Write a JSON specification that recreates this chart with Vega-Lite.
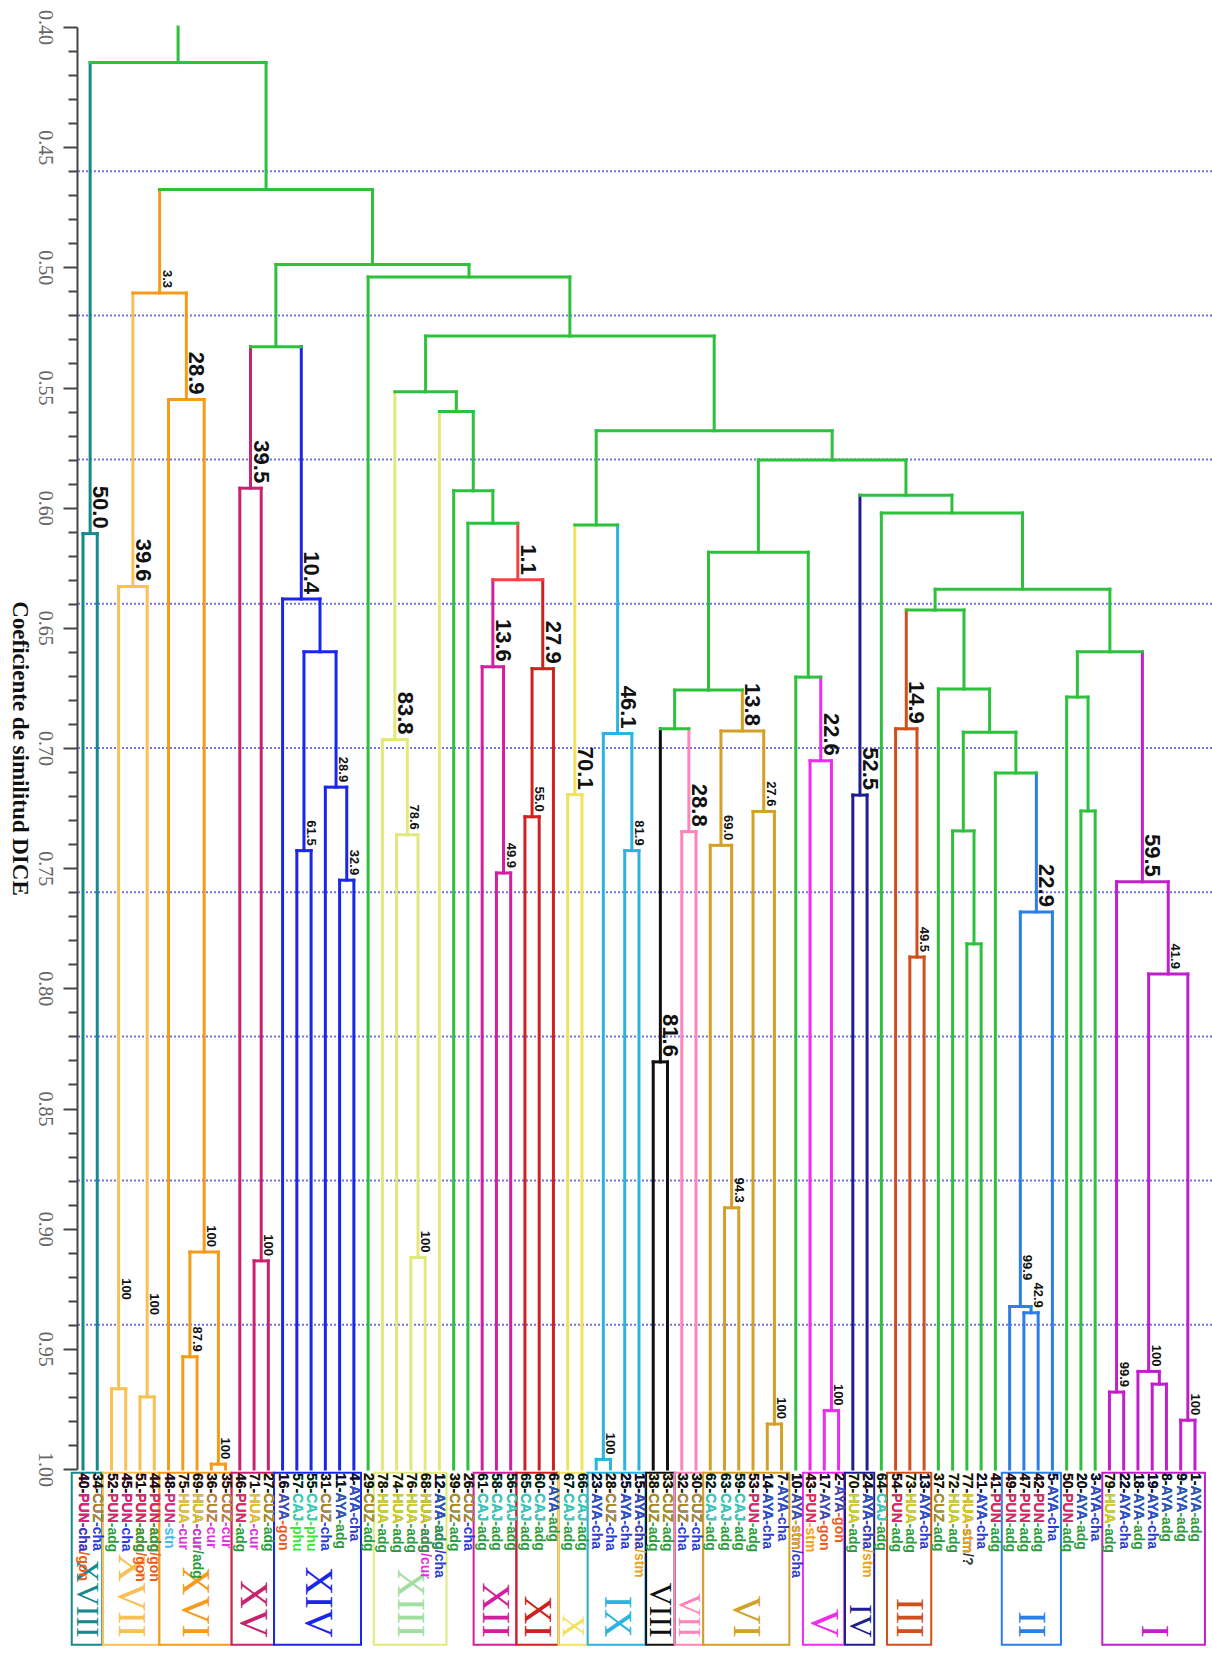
{
"$schema": "https://vega.github.io/schema/vega-lite/v6.json",
"width": 1135, "height": 1442,
"autosize": {"type": "none"},
"padding": {"left": 77, "top": 27, "right": 0, "bottom": 188},
"background": "white",
"config": {"view": {"stroke": null}},
"resolve": {"axis": {"y": "independent"}},
"datasets": {
"dash": [{"v":0.46},{"v":0.52},{"v":0.58},{"v":0.64},{"v":0.70},{"v":0.76},{"v":0.82},{"v":0.88},{"v":0.94}],
"hs": [
{"x":0,"x2":1,"y":0.6108,"c":"t18"},{"x":2,"x2":3,"y":0.9666,"c":"c17"},{"x":4,"x2":5,"y":0.97,"c":"c17"},{"x":2.5,"x2":4.5,"y":0.6328,"c":"c17"},
{"x":7,"x2":8,"y":0.9533,"c":"c16"},{"x":9,"x2":10,"y":0.998,"c":"c16"},{"x":7.5,"x2":9.5,"y":0.9097,"c":"c16"},{"x":6,"x2":8.5,"y":0.555,"c":"c16"},{"x":3.5,"x2":7.25,"y":0.5107,"c":"c16"},
{"x":12,"x2":13,"y":0.9134,"c":"c15"},{"x":11,"x2":12.5,"y":0.5919,"c":"c15"},
{"x":15,"x2":16,"y":0.7427,"c":"c14"},{"x":18,"x2":19,"y":0.755,"c":"c14"},{"x":17,"x2":18.5,"y":0.7163,"c":"c14"},{"x":15.5,"x2":17.75,"y":0.66,"c":"c14"},{"x":14,"x2":16.625,"y":0.638,"c":"c14"},
{"x":11.75,"x2":15.3125,"y":0.533,"c":"g"},
{"x":23,"x2":24,"y":0.912,"c":"c13"},{"x":22,"x2":23.5,"y":0.7361,"c":"c13"},{"x":21,"x2":22.75,"y":0.6965,"c":"c13"},
{"x":29,"x2":30,"y":0.752,"c":"c12"},{"x":28,"x2":29.5,"y":0.6662,"c":"c12"},
{"x":31,"x2":32,"y":0.7286,"c":"c11"},{"x":31.5,"x2":33,"y":0.667,"c":"c11"},
{"x":28.75,"x2":32.25,"y":0.63,"c":"r"},
{"x":27,"x2":30.5,"y":0.6065,"c":"g"},{"x":26,"x2":28.75,"y":0.593,"c":"g"},{"x":25,"x2":27.375,"y":0.56,"c":"g"},{"x":21.875,"x2":26.1875,"y":0.5518,"c":"g"},
{"x":34,"x2":35,"y":0.7194,"c":"c10"},
{"x":36,"x2":37,"y":0.996,"c":"c9"},{"x":38,"x2":39,"y":0.7427,"c":"c9"},{"x":36.5,"x2":38.5,"y":0.694,"c":"c9"},
{"x":34.5,"x2":37.5,"y":0.6072,"c":"g"},
{"x":40,"x2":41,"y":0.8306,"c":"c8"},{"x":42,"x2":43,"y":0.7348,"c":"c7"},{"x":40.5,"x2":42.5,"y":0.692,"c":"g"},
{"x":45,"x2":46,"y":0.8913,"c":"c6"},{"x":44,"x2":45.5,"y":0.7405,"c":"c6"},{"x":48,"x2":49,"y":0.9813,"c":"c6"},{"x":47,"x2":48.5,"y":0.7264,"c":"c6"},{"x":44.75,"x2":47.75,"y":0.6929,"c":"c6"},
{"x":41.5,"x2":46.25,"y":0.6759,"c":"g"},
{"x":52,"x2":53,"y":0.9757,"c":"c5"},{"x":51,"x2":52.5,"y":0.7053,"c":"c5"},
{"x":50,"x2":51.75,"y":0.6705,"c":"g"},{"x":43.875,"x2":50.875,"y":0.6185,"c":"g"},
{"x":54,"x2":55,"y":0.7196,"c":"c4"},
{"x":58,"x2":59,"y":0.787,"c":"c3"},{"x":57,"x2":58.5,"y":0.692,"c":"c3"},
{"x":62,"x2":63,"y":0.7815,"c":"g"},{"x":61,"x2":62.5,"y":0.7345,"c":"g"},
{"x":66,"x2":67,"y":0.935,"c":"c2"},{"x":65,"x2":66.5,"y":0.9324,"c":"c2"},{"x":65.75,"x2":68,"y":0.7682,"c":"c2"},
{"x":64,"x2":66.875,"y":0.7104,"c":"g"},{"x":61.75,"x2":65.4375,"y":0.6934,"c":"g"},{"x":60,"x2":63.594,"y":0.6755,"c":"g"},{"x":57.75,"x2":61.797,"y":0.6426,"c":"g"},
{"x":70,"x2":71,"y":0.7262,"c":"g"},{"x":69,"x2":70.5,"y":0.6788,"c":"g"},
{"x":72,"x2":73,"y":0.968,"c":"c1"},{"x":75,"x2":76,"y":0.9647,"c":"c1"},{"x":74,"x2":75.5,"y":0.9594,"c":"c1"},{"x":77,"x2":78,"y":0.9797,"c":"c1"},{"x":74.75,"x2":77.5,"y":0.794,"c":"c1"},{"x":72.5,"x2":76.125,"y":0.7557,"c":"c1"},
{"x":69.75,"x2":74.3125,"y":0.66,"c":"g"},{"x":59.773,"x2":72.031,"y":0.6339,"c":"g"},{"x":56,"x2":65.902,"y":0.6022,"c":"g"},{"x":54.5,"x2":60.951,"y":0.5948,"c":"g"},
{"x":47.375,"x2":57.726,"y":0.5802,"c":"g"},{"x":36,"x2":52.55,"y":0.568,"c":"g"},{"x":24.031,"x2":44.275,"y":0.5286,"c":"g"},{"x":20,"x2":34.153,"y":0.504,"c":"g"},
{"x":13.531,"x2":27.077,"y":0.4988,"c":"g"},{"x":5.375,"x2":20.304,"y":0.4676,"c":"g"},{"x":0.5,"x2":12.84,"y":0.4148,"c":"g"}
],
"vs": [
{"x":0,"y":0.6108,"y2":1,"c":"t18"},{"x":1,"y":0.6108,"y2":1,"c":"t18"},
{"x":2,"y":0.9666,"y2":1,"c":"c17"},{"x":3,"y":0.9666,"y2":1,"c":"c17"},{"x":4,"y":0.97,"y2":1,"c":"c17"},{"x":5,"y":0.97,"y2":1,"c":"c17"},
{"x":2.5,"y":0.6328,"y2":0.9666,"c":"c17"},{"x":4.5,"y":0.6328,"y2":0.97,"c":"c17"},
{"x":7,"y":0.9533,"y2":1,"c":"c16"},{"x":8,"y":0.9533,"y2":1,"c":"c16"},{"x":9,"y":0.998,"y2":1,"c":"c16"},{"x":10,"y":0.998,"y2":1,"c":"c16"},
{"x":7.5,"y":0.9097,"y2":0.9533,"c":"c16"},{"x":9.5,"y":0.9097,"y2":0.998,"c":"c16"},
{"x":6,"y":0.555,"y2":1,"c":"c16"},{"x":8.5,"y":0.555,"y2":0.9097,"c":"c16"},
{"x":3.5,"y":0.5107,"y2":0.6328,"c":"c17"},{"x":7.25,"y":0.5107,"y2":0.555,"c":"c16"},
{"x":12,"y":0.9134,"y2":1,"c":"c15"},{"x":13,"y":0.9134,"y2":1,"c":"c15"},{"x":11,"y":0.5919,"y2":1,"c":"c15"},{"x":12.5,"y":0.5919,"y2":0.9134,"c":"c15"},
{"x":15,"y":0.7427,"y2":1,"c":"c14"},{"x":16,"y":0.7427,"y2":1,"c":"c14"},{"x":18,"y":0.755,"y2":1,"c":"c14"},{"x":19,"y":0.755,"y2":1,"c":"c14"},
{"x":17,"y":0.7163,"y2":1,"c":"c14"},{"x":18.5,"y":0.7163,"y2":0.755,"c":"c14"},
{"x":15.5,"y":0.66,"y2":0.7427,"c":"c14"},{"x":17.75,"y":0.66,"y2":0.7163,"c":"c14"},
{"x":14,"y":0.638,"y2":1,"c":"c14"},{"x":16.625,"y":0.638,"y2":0.66,"c":"c14"},
{"x":11.75,"y":0.533,"y2":0.5919,"c":"c15"},{"x":15.3125,"y":0.533,"y2":0.638,"c":"c14"},
{"x":23,"y":0.912,"y2":1,"c":"c13"},{"x":24,"y":0.912,"y2":1,"c":"c13"},{"x":22,"y":0.7361,"y2":1,"c":"c13"},{"x":23.5,"y":0.7361,"y2":0.912,"c":"c13"},
{"x":21,"y":0.6965,"y2":1,"c":"c13"},{"x":22.75,"y":0.6965,"y2":0.7361,"c":"c13"},
{"x":29,"y":0.752,"y2":1,"c":"c12"},{"x":30,"y":0.752,"y2":1,"c":"c12"},{"x":28,"y":0.6662,"y2":1,"c":"c12"},{"x":29.5,"y":0.6662,"y2":0.752,"c":"c12"},
{"x":31,"y":0.7286,"y2":1,"c":"c11"},{"x":32,"y":0.7286,"y2":1,"c":"c11"},{"x":31.5,"y":0.667,"y2":0.7286,"c":"c11"},{"x":33,"y":0.667,"y2":1,"c":"c11"},
{"x":28.75,"y":0.63,"y2":0.6662,"c":"c12"},{"x":32.25,"y":0.63,"y2":0.667,"c":"c11"},
{"x":27,"y":0.6065,"y2":1,"c":"g"},{"x":30.5,"y":0.6065,"y2":0.63,"c":"r"},
{"x":26,"y":0.593,"y2":1,"c":"g"},{"x":28.75,"y":0.593,"y2":0.6065,"c":"g"},
{"x":25,"y":0.56,"y2":1,"c":"c13"},{"x":27.375,"y":0.56,"y2":0.593,"c":"g"},
{"x":21.875,"y":0.5518,"y2":0.6965,"c":"c13"},{"x":26.1875,"y":0.5518,"y2":0.56,"c":"g"},
{"x":34,"y":0.7194,"y2":1,"c":"c10"},{"x":35,"y":0.7194,"y2":1,"c":"c10"},
{"x":36,"y":0.996,"y2":1,"c":"c9"},{"x":37,"y":0.996,"y2":1,"c":"c9"},{"x":38,"y":0.7427,"y2":1,"c":"c9"},{"x":39,"y":0.7427,"y2":1,"c":"c9"},
{"x":36.5,"y":0.694,"y2":0.996,"c":"c9"},{"x":38.5,"y":0.694,"y2":0.7427,"c":"c9"},
{"x":34.5,"y":0.6072,"y2":0.7194,"c":"c10"},{"x":37.5,"y":0.6072,"y2":0.694,"c":"c9"},
{"x":40,"y":0.8306,"y2":1,"c":"c8"},{"x":41,"y":0.8306,"y2":1,"c":"c8"},{"x":42,"y":0.7348,"y2":1,"c":"c7"},{"x":43,"y":0.7348,"y2":1,"c":"c7"},
{"x":40.5,"y":0.692,"y2":0.8306,"c":"c8"},{"x":42.5,"y":0.692,"y2":0.7348,"c":"c7"},
{"x":45,"y":0.8913,"y2":1,"c":"c6"},{"x":46,"y":0.8913,"y2":1,"c":"c6"},{"x":44,"y":0.7405,"y2":1,"c":"c6"},{"x":45.5,"y":0.7405,"y2":0.8913,"c":"c6"},
{"x":48,"y":0.9813,"y2":1,"c":"c6"},{"x":49,"y":0.9813,"y2":1,"c":"c6"},{"x":47,"y":0.7264,"y2":1,"c":"c6"},{"x":48.5,"y":0.7264,"y2":0.9813,"c":"c6"},
{"x":44.75,"y":0.6929,"y2":0.7405,"c":"c6"},{"x":47.75,"y":0.6929,"y2":0.7264,"c":"c6"},
{"x":41.5,"y":0.6759,"y2":0.692,"c":"g"},{"x":46.25,"y":0.6759,"y2":0.6929,"c":"c6"},
{"x":52,"y":0.9757,"y2":1,"c":"c5"},{"x":53,"y":0.9757,"y2":1,"c":"c5"},{"x":51,"y":0.7053,"y2":1,"c":"c5"},{"x":52.5,"y":0.7053,"y2":0.9757,"c":"c5"},
{"x":50,"y":0.6705,"y2":1,"c":"g"},{"x":51.75,"y":0.6705,"y2":0.7053,"c":"c5"},
{"x":43.875,"y":0.6185,"y2":0.6759,"c":"g"},{"x":50.875,"y":0.6185,"y2":0.6705,"c":"g"},
{"x":54,"y":0.7196,"y2":1,"c":"c4"},{"x":55,"y":0.7196,"y2":1,"c":"c4"},
{"x":58,"y":0.787,"y2":1,"c":"c3"},{"x":59,"y":0.787,"y2":1,"c":"c3"},{"x":57,"y":0.692,"y2":1,"c":"c3"},{"x":58.5,"y":0.692,"y2":0.787,"c":"c3"},
{"x":62,"y":0.7815,"y2":1,"c":"g"},{"x":63,"y":0.7815,"y2":1,"c":"g"},{"x":61,"y":0.7345,"y2":1,"c":"g"},{"x":62.5,"y":0.7345,"y2":0.7815,"c":"g"},
{"x":66,"y":0.935,"y2":1,"c":"c2"},{"x":67,"y":0.935,"y2":1,"c":"c2"},{"x":65,"y":0.9324,"y2":1,"c":"c2"},{"x":66.5,"y":0.9324,"y2":0.935,"c":"c2"},
{"x":65.75,"y":0.7682,"y2":0.9324,"c":"c2"},{"x":68,"y":0.7682,"y2":1,"c":"c2"},
{"x":64,"y":0.7104,"y2":1,"c":"g"},{"x":66.875,"y":0.7104,"y2":0.7682,"c":"c2"},
{"x":61.75,"y":0.6934,"y2":0.7345,"c":"g"},{"x":65.4375,"y":0.6934,"y2":0.7104,"c":"g"},
{"x":60,"y":0.6755,"y2":1,"c":"g"},{"x":63.594,"y":0.6755,"y2":0.6934,"c":"g"},
{"x":57.75,"y":0.6426,"y2":0.692,"c":"c3"},{"x":61.797,"y":0.6426,"y2":0.6755,"c":"g"},
{"x":70,"y":0.7262,"y2":1,"c":"g"},{"x":71,"y":0.7262,"y2":1,"c":"g"},{"x":69,"y":0.6788,"y2":1,"c":"g"},{"x":70.5,"y":0.6788,"y2":0.7262,"c":"g"},
{"x":72,"y":0.968,"y2":1,"c":"c1"},{"x":73,"y":0.968,"y2":1,"c":"c1"},{"x":75,"y":0.9647,"y2":1,"c":"c1"},{"x":76,"y":0.9647,"y2":1,"c":"c1"},
{"x":74,"y":0.9594,"y2":1,"c":"c1"},{"x":75.5,"y":0.9594,"y2":0.9647,"c":"c1"},{"x":77,"y":0.9797,"y2":1,"c":"c1"},{"x":78,"y":0.9797,"y2":1,"c":"c1"},
{"x":74.75,"y":0.794,"y2":0.9594,"c":"c1"},{"x":77.5,"y":0.794,"y2":0.9797,"c":"c1"},
{"x":72.5,"y":0.7557,"y2":0.968,"c":"c1"},{"x":76.125,"y":0.7557,"y2":0.794,"c":"c1"},
{"x":69.75,"y":0.66,"y2":0.6788,"c":"g"},{"x":74.3125,"y":0.66,"y2":0.7557,"c":"c1"},
{"x":59.773,"y":0.6339,"y2":0.6426,"c":"g"},{"x":72.031,"y":0.6339,"y2":0.66,"c":"g"},
{"x":56,"y":0.6022,"y2":1,"c":"g"},{"x":65.902,"y":0.6022,"y2":0.6339,"c":"g"},
{"x":54.5,"y":0.5948,"y2":0.7196,"c":"c4"},{"x":60.951,"y":0.5948,"y2":0.6022,"c":"g"},
{"x":47.375,"y":0.5802,"y2":0.6185,"c":"g"},{"x":57.726,"y":0.5802,"y2":0.5948,"c":"g"},
{"x":36,"y":0.568,"y2":0.6072,"c":"g"},{"x":52.55,"y":0.568,"y2":0.5802,"c":"g"},
{"x":24.031,"y":0.5286,"y2":0.5518,"c":"g"},{"x":44.275,"y":0.5286,"y2":0.568,"c":"g"},
{"x":20,"y":0.504,"y2":1,"c":"g"},{"x":34.153,"y":0.504,"y2":0.5286,"c":"g"},
{"x":13.531,"y":0.4988,"y2":0.533,"c":"g"},{"x":27.077,"y":0.4988,"y2":0.504,"c":"g"},
{"x":5.375,"y":0.4676,"y2":0.5107,"c":"c16"},{"x":20.304,"y":0.4676,"y2":0.4988,"c":"g"},
{"x":0.5,"y":0.4148,"y2":0.6108,"c":"t18"},{"x":12.84,"y":0.4148,"y2":0.4676,"c":"g"},
{"x":6.67,"y":0.4,"y2":0.4148,"c":"g"}
],
"boot": [
{"x":0.5,"y":0.6108,"t":"50.0","k":"big"},{"x":3.5,"y":0.6328,"t":"39.6","k":"big"},{"x":7.25,"y":0.555,"t":"28.9","k":"big"},
{"x":11.75,"y":0.5919,"t":"39.5","k":"big"},{"x":15.3125,"y":0.638,"t":"10.4","k":"big"},{"x":21.875,"y":0.6965,"t":"83.8","k":"big"},
{"x":30.5,"y":0.63,"t":"1.1","k":"big"},{"x":28.75,"y":0.6662,"t":"13.6","k":"big"},{"x":32.25,"y":0.667,"t":"27.9","k":"big"},
{"x":34.5,"y":0.7194,"t":"70.1","k":"big"},{"x":37.5,"y":0.694,"t":"46.1","k":"big"},{"x":40.5,"y":0.8306,"t":"81.6","k":"big"},
{"x":42.5,"y":0.7348,"t":"28.8","k":"big"},{"x":46.25,"y":0.6929,"t":"13.8","k":"big"},{"x":51.75,"y":0.7053,"t":"22.6","k":"big"},
{"x":54.5,"y":0.7196,"t":"52.5","k":"big"},{"x":57.75,"y":0.692,"t":"14.9","k":"big"},{"x":66.875,"y":0.7682,"t":"22.9","k":"big"},
{"x":74.3125,"y":0.7557,"t":"59.5","k":"big"},
{"x":5.375,"y":0.5107,"t":"3.3","k":"small"},{"x":2.5,"y":0.9317,"t":"100","k":"small"},{"x":4.5,"y":0.938,"t":"100","k":"small"},
{"x":8.5,"y":0.9097,"t":"100","k":"small"},{"x":7.5,"y":0.9533,"t":"87.9","k":"small"},{"x":9.5,"y":0.998,"t":"100","k":"small"},
{"x":12.5,"y":0.9134,"t":"100","k":"small"},{"x":15.5,"y":0.7427,"t":"61.5","k":"small"},{"x":17.75,"y":0.7163,"t":"28.9","k":"small"},
{"x":18.5,"y":0.755,"t":"32.9","k":"small"},{"x":22.75,"y":0.7361,"t":"78.6","k":"small"},{"x":23.5,"y":0.912,"t":"100","k":"small"},
{"x":29.5,"y":0.752,"t":"49.9","k":"small"},{"x":31.5,"y":0.7286,"t":"55.0","k":"small"},{"x":38.5,"y":0.7427,"t":"81.9","k":"small"},
{"x":36.5,"y":0.996,"t":"100","k":"small"},{"x":44.75,"y":0.7405,"t":"69.0","k":"small"},{"x":47.75,"y":0.7264,"t":"27.6","k":"small"},
{"x":45.5,"y":0.8913,"t":"94.3","k":"small"},{"x":48.5,"y":0.9813,"t":"100","k":"small"},{"x":52.5,"y":0.9757,"t":"100","k":"small"},
{"x":58.5,"y":0.787,"t":"49.5","k":"small"},{"x":65.75,"y":0.9235,"t":"99.9","k":"small"},{"x":66.5,"y":0.935,"t":"42.9","k":"small"},
{"x":76.125,"y":0.794,"t":"41.9","k":"small"},{"x":72.5,"y":0.968,"t":"99.9","k":"small"},{"x":74.75,"y":0.9594,"t":"100","k":"small"},
{"x":77.5,"y":0.9797,"t":"100","k":"small"}
],
"box": [
{"cl":"XVIII","lo":-0.79,"hi":1.35,"m":0.28,"n":2,"c":"t18","tc":"t18"},
{"cl":"XVII","lo":1.4,"hi":5.35,"m":3.375,"n":3,"c":"c17","tc":"c17"},
{"cl":"XVI","lo":5.35,"hi":10.42,"m":7.885,"n":5,"c":"c16","tc":"c16"},
{"cl":"XV","lo":10.42,"hi":13.4,"m":11.91,"n":3,"c":"c15","tc":"c15"},
{"cl":"XIV","lo":13.4,"hi":19.5,"m":16.45,"n":6,"c":"c14","tc":"c14"},
{"cl":"XIII","lo":20.4,"hi":25.5,"m":22.95,"n":5,"c":"c13","tc":"t13"},
{"cl":"XII","lo":27.4,"hi":30.4,"m":28.9,"n":3,"c":"c12","tc":"c12"},
{"cl":"XI","lo":30.4,"hi":33.35,"m":31.875,"n":3,"c":"c11","tc":"c11"},
{"cl":"X","lo":33.35,"hi":35.4,"m":34.375,"n":2,"c":"c10","tc":"c10"},
{"cl":"IX","lo":35.4,"hi":39.45,"m":37.425,"n":4,"c":"c9","tc":"c9"},
{"cl":"VIII","lo":39.5,"hi":41.5,"m":40.5,"n":2,"c":"c8","tc":"c8"},
{"cl":"VII","lo":41.5,"hi":43.5,"m":42.5,"n":2,"c":"c7","tc":"c7"},
{"cl":"VI","lo":43.5,"hi":49.55,"m":46.525,"n":6,"c":"c6","tc":"c6"},
{"cl":"V","lo":50.5,"hi":53.4,"m":51.95,"n":3,"c":"c5","tc":"c5"},
{"cl":"IV","lo":53.45,"hi":55.5,"m":54.475,"n":2,"c":"c4","tc":"c4"},
{"cl":"III","lo":56.4,"hi":59.5,"m":57.95,"n":3,"c":"c3","tc":"c3"},
{"cl":"II","lo":64.45,"hi":68.6,"m":66.525,"n":4,"c":"c2","tc":"c2"},
{"cl":"I","lo":71.5,"hi":78.7,"m":75.1,"n":7,"c":"c1","tc":"c1"}
],
"leaf": [
{"i":0,"lab":"40-PUN-cha/gon","h":"gon","p2":"40-PUN-cha","k":"cha","p1":"40-PUN","p0":"40-","s":"PUN"},
{"i":1,"lab":"34-CUZ-cha","h":"cha","p1":"34-CUZ","p0":"34-","s":"CUZ"},
{"i":2,"lab":"52-PUN-adg","h":"adg","p1":"52-PUN","p0":"52-","s":"PUN"},
{"i":3,"lab":"45-PUN-cha","h":"cha","p1":"45-PUN","p0":"45-","s":"PUN"},
{"i":4,"lab":"51-PUN-adg/gon","h":"gon","p2":"51-PUN-adg","k":"adg","p1":"51-PUN","p0":"51-","s":"PUN"},
{"i":5,"lab":"44-PUN-adg/gon","h":"gon","p2":"44-PUN-adg","k":"adg","p1":"44-PUN","p0":"44-","s":"PUN"},
{"i":6,"lab":"48-PUN-stn","h":"stn","p1":"48-PUN","p0":"48-","s":"PUN"},
{"i":7,"lab":"75-HUA-cur","h":"cur","p1":"75-HUA","p0":"75-","s":"HUA"},
{"i":8,"lab":"69-HUA-cur/adg","h":"adg","p2":"69-HUA-cur","k":"cur","p1":"69-HUA","p0":"69-","s":"HUA"},
{"i":9,"lab":"36-CUZ-cur","h":"cur","p1":"36-CUZ","p0":"36-","s":"CUZ"},
{"i":10,"lab":"35-CUZ-cur","h":"cur","p1":"35-CUZ","p0":"35-","s":"CUZ"},
{"i":11,"lab":"46-PUN-adg","h":"adg","p1":"46-PUN","p0":"46-","s":"PUN"},
{"i":12,"lab":"71-HUA-cur","h":"cur","p1":"71-HUA","p0":"71-","s":"HUA"},
{"i":13,"lab":"27-CUZ-adg","h":"adg","p1":"27-CUZ","p0":"27-","s":"CUZ"},
{"i":14,"lab":"16-AYA-gon","h":"gon","p1":"16-AYA","p0":"16-","s":"AYA"},
{"i":15,"lab":"57-CAJ-phu","h":"phu","p1":"57-CAJ","p0":"57-","s":"CAJ"},
{"i":16,"lab":"55-CAJ-phu","h":"phu","p1":"55-CAJ","p0":"55-","s":"CAJ"},
{"i":17,"lab":"31-CUZ-cha","h":"cha","p1":"31-CUZ","p0":"31-","s":"CUZ"},
{"i":18,"lab":"11-AYA-adg","h":"adg","p1":"11-AYA","p0":"11-","s":"AYA"},
{"i":19,"lab":"4-AYA-cha","h":"cha","p1":"4-AYA","p0":"4-","s":"AYA"},
{"i":20,"lab":"29-CUZ-adg","h":"adg","p1":"29-CUZ","p0":"29-","s":"CUZ"},
{"i":21,"lab":"78-HUA-adg","h":"adg","p1":"78-HUA","p0":"78-","s":"HUA"},
{"i":22,"lab":"74-HUA-adg","h":"adg","p1":"74-HUA","p0":"74-","s":"HUA"},
{"i":23,"lab":"76-HUA-adg","h":"adg","p1":"76-HUA","p0":"76-","s":"HUA"},
{"i":24,"lab":"68-HUA-adg/cur","h":"cur","p2":"68-HUA-adg","k":"adg","p1":"68-HUA","p0":"68-","s":"HUA"},
{"i":25,"lab":"12-AYA-adg/cha","h":"cha","p2":"12-AYA-adg","k":"adg","p1":"12-AYA","p0":"12-","s":"AYA"},
{"i":26,"lab":"39-CUZ-adg","h":"adg","p1":"39-CUZ","p0":"39-","s":"CUZ"},
{"i":27,"lab":"26-CUZ-cha","h":"cha","p1":"26-CUZ","p0":"26-","s":"CUZ"},
{"i":28,"lab":"61-CAJ-adg","h":"adg","p1":"61-CAJ","p0":"61-","s":"CAJ"},
{"i":29,"lab":"58-CAJ-adg","h":"adg","p1":"58-CAJ","p0":"58-","s":"CAJ"},
{"i":30,"lab":"56-CAJ-adg","h":"adg","p1":"56-CAJ","p0":"56-","s":"CAJ"},
{"i":31,"lab":"65-CAJ-adg","h":"adg","p1":"65-CAJ","p0":"65-","s":"CAJ"},
{"i":32,"lab":"60-CAJ-adg","h":"adg","p1":"60-CAJ","p0":"60-","s":"CAJ"},
{"i":33,"lab":"6-AYA-adg","h":"adg","p1":"6-AYA","p0":"6-","s":"AYA"},
{"i":34,"lab":"67-CAJ-adg","h":"adg","p1":"67-CAJ","p0":"67-","s":"CAJ"},
{"i":35,"lab":"66-CAJ-adg","h":"adg","p1":"66-CAJ","p0":"66-","s":"CAJ"},
{"i":36,"lab":"23-AYA-cha","h":"cha","p1":"23-AYA","p0":"23-","s":"AYA"},
{"i":37,"lab":"28-CUZ-cha","h":"cha","p1":"28-CUZ","p0":"28-","s":"CUZ"},
{"i":38,"lab":"25-AYA-cha","h":"cha","p1":"25-AYA","p0":"25-","s":"AYA"},
{"i":39,"lab":"15-AYA-cha/stm","h":"stm","p2":"15-AYA-cha","k":"cha","p1":"15-AYA","p0":"15-","s":"AYA"},
{"i":40,"lab":"38-CUZ-adg","h":"adg","p1":"38-CUZ","p0":"38-","s":"CUZ"},
{"i":41,"lab":"33-CUZ-adg","h":"adg","p1":"33-CUZ","p0":"33-","s":"CUZ"},
{"i":42,"lab":"32-CUZ-cha","h":"cha","p1":"32-CUZ","p0":"32-","s":"CUZ"},
{"i":43,"lab":"30-CUZ-cha","h":"cha","p1":"30-CUZ","p0":"30-","s":"CUZ"},
{"i":44,"lab":"62-CAJ-adg","h":"adg","p1":"62-CAJ","p0":"62-","s":"CAJ"},
{"i":45,"lab":"63-CAJ-adg","h":"adg","p1":"63-CAJ","p0":"63-","s":"CAJ"},
{"i":46,"lab":"59-CAJ-adg","h":"adg","p1":"59-CAJ","p0":"59-","s":"CAJ"},
{"i":47,"lab":"53-PUN-adg","h":"adg","p1":"53-PUN","p0":"53-","s":"PUN"},
{"i":48,"lab":"14-AYA-cha","h":"cha","p1":"14-AYA","p0":"14-","s":"AYA"},
{"i":49,"lab":"7-AYA-cha","h":"cha","p1":"7-AYA","p0":"7-","s":"AYA"},
{"i":50,"lab":"10-AYA-stm/cha","h":"cha","p2":"10-AYA-stm","k":"stm","p1":"10-AYA","p0":"10-","s":"AYA"},
{"i":51,"lab":"43-PUN-stm","h":"stm","p1":"43-PUN","p0":"43-","s":"PUN"},
{"i":52,"lab":"17-AYA-gon","h":"gon","p1":"17-AYA","p0":"17-","s":"AYA"},
{"i":53,"lab":"2-AYA-gon","h":"gon","p1":"2-AYA","p0":"2-","s":"AYA"},
{"i":54,"lab":"70-HUA-adg","h":"adg","p1":"70-HUA","p0":"70-","s":"HUA"},
{"i":55,"lab":"24-AYA-cha/stm","h":"stm","p2":"24-AYA-cha","k":"cha","p1":"24-AYA","p0":"24-","s":"AYA"},
{"i":56,"lab":"64-CAJ-adg","h":"adg","p1":"64-CAJ","p0":"64-","s":"CAJ"},
{"i":57,"lab":"54-PUN-adg","h":"adg","p1":"54-PUN","p0":"54-","s":"PUN"},
{"i":58,"lab":"73-HUA-adg","h":"adg","p1":"73-HUA","p0":"73-","s":"HUA"},
{"i":59,"lab":"13-AYA-cha","h":"cha","p1":"13-AYA","p0":"13-","s":"AYA"},
{"i":60,"lab":"37-CUZ-adg","h":"adg","p1":"37-CUZ","p0":"37-","s":"CUZ"},
{"i":61,"lab":"72-HUA-adg","h":"adg","p1":"72-HUA","p0":"72-","s":"HUA"},
{"i":62,"lab":"77-HUA-stm/?","h":"unk","p2":"77-HUA-stm","k":"stm","p1":"77-HUA","p0":"77-","s":"HUA"},
{"i":63,"lab":"21-AYA-cha","h":"cha","p1":"21-AYA","p0":"21-","s":"AYA"},
{"i":64,"lab":"41-PUN-adg","h":"adg","p1":"41-PUN","p0":"41-","s":"PUN"},
{"i":65,"lab":"49-PUN-adg","h":"adg","p1":"49-PUN","p0":"49-","s":"PUN"},
{"i":66,"lab":"47-PUN-adg","h":"adg","p1":"47-PUN","p0":"47-","s":"PUN"},
{"i":67,"lab":"42-PUN-adg","h":"adg","p1":"42-PUN","p0":"42-","s":"PUN"},
{"i":68,"lab":"5-AYA-cha","h":"cha","p1":"5-AYA","p0":"5-","s":"AYA"},
{"i":69,"lab":"50-PUN-adg","h":"adg","p1":"50-PUN","p0":"50-","s":"PUN"},
{"i":70,"lab":"20-AYA-adg","h":"adg","p1":"20-AYA","p0":"20-","s":"AYA"},
{"i":71,"lab":"3-AYA-cha","h":"cha","p1":"3-AYA","p0":"3-","s":"AYA"},
{"i":72,"lab":"79-HUA-adg","h":"adg","p1":"79-HUA","p0":"79-","s":"HUA"},
{"i":73,"lab":"22-AYA-cha","h":"cha","p1":"22-AYA","p0":"22-","s":"AYA"},
{"i":74,"lab":"18-AYA-adg","h":"adg","p1":"18-AYA","p0":"18-","s":"AYA"},
{"i":75,"lab":"19-AYA-cha","h":"cha","p1":"19-AYA","p0":"19-","s":"AYA"},
{"i":76,"lab":"8-AYA-adg","h":"adg","p1":"8-AYA","p0":"8-","s":"AYA"},
{"i":77,"lab":"9-AYA-adg","h":"adg","p1":"9-AYA","p0":"9-","s":"AYA"},
{"i":78,"lab":"1-AYA-adg","h":"adg","p1":"1-AYA","p0":"1-","s":"AYA"}
]
},
"layer": [
{
 "data": {"name": "dash"},
 "mark": {"type": "rule", "color": "#5b5bd6", "strokeWidth": 2, "strokeDash": [2, 2], "opacity": 0.85, "clip": false},
 "encoding": {
  "y": {"field": "v", "type": "quantitative",
   "scale": {"domain": [0.4, 1.0], "reverse": true, "nice": false, "zero": false},
   "axis": {
    "orient": "left",
    "values": [0.4,0.45,0.5,0.55,0.6,0.65,0.7,0.75,0.8,0.85,0.9,0.95,1.0],
    "format": ".2f",
    "tickSize": 14,
    "tickColor": "#444", "tickWidth": 2, "domainColor": "#444", "domainWidth": 2,
    "labelAngle": 90, "labelAlign": "center", "labelBaseline": "top", "labelPadding": 9,
    "labelFont": "Liberation Serif", "labelFontSize": 20, "labelColor": "#666",
    "labelOverlap": false, "labelFlush": false, "grid": false,
    "title": "Coeficiente de similitud DICE", "titleFont": "Liberation Serif", "titleFontSize": 23,
    "titleFontWeight": "bold", "titleColor": "#111", "titleAngle": 90, "titleX": -65, "titleY": 721,
    "titleAlign": "center", "titleBaseline": "alphabetic"
   }}
 }
},
{
 "data": {"name": "vs"},
 "mark": {"type": "rule", "strokeWidth": 3, "strokeCap": "square", "clip": false},
 "encoding": {
  "x": {"field": "x", "type": "quantitative", "scale": {"domain": [-0.4209, 79.195], "nice": false, "zero": false}, "axis": null},
  "y": {"field": "y", "type": "quantitative", "scale": {"domain": [0.4, 1.0], "reverse": true, "nice": false, "zero": false},
   "axis": {"orient": "left", "values": [0.41,0.42,0.43,0.44,0.46,0.47,0.48,0.49,0.51,0.52,0.53,0.54,0.56,0.57,0.58,0.59,0.61,0.62,0.63,0.64,0.66,0.67,0.68,0.69,0.71,0.72,0.73,0.74,0.76,0.77,0.78,0.79,0.81,0.82,0.83,0.84,0.86,0.87,0.88,0.89,0.91,0.92,0.93,0.94,0.96,0.97,0.98,0.99],
    "labels": false, "domain": false, "grid": false, "tickSize": 9, "tickColor": "#444", "tickWidth": 2, "title": null}},
  "y2": {"field": "y2"},
  "color": {"field": "c", "type": "nominal", "legend": null, "scale": {"domain": ["g","t18","c17","c16","c15","c14","c13","c12","c11","r","c10","c9","c8","c7","c6","c5","c4","c3","c2","c1","t13","PUN","CUZ","HUA","AYA","CAJ","adg","cha","gon","cur","stm","phu","stn","unk"], "range": ["#2ec13d","#15898b","#f8c156","#f59b1b","#c7236f","#1b27e8","#e2e97c","#d0209e","#d02020","#f04444","#f1e15d","#2ab4df","#111111","#ff84bb","#d4a128","#ee2bee","#1e1e8e","#cf4f1d","#2b7fe6","#c11fc9","#9fe0a0","#e3236f","#b38b25","#d9cd1f","#3050c0","#3cc8c8","#2b9b3c","#2a3ad2","#ef5a1b","#e02fe0","#f0a312","#3fe23f","#42b9f0","#333333"]}}
 }
},
{
 "data": {"name": "hs"},
 "mark": {"type": "rule", "strokeWidth": 3, "strokeCap": "square", "clip": false},
 "encoding": {
  "x": {"field": "x", "type": "quantitative", "scale": {"domain": [-0.4209, 79.195], "nice": false, "zero": false}, "axis": null},
  "x2": {"field": "x2"},
  "y": {"field": "y", "type": "quantitative", "scale": {"domain": [0.4, 1.0], "reverse": true, "nice": false, "zero": false}, "axis": null},
  "color": {"field": "c", "type": "nominal", "legend": null, "scale": {"domain": ["g","t18","c17","c16","c15","c14","c13","c12","c11","r","c10","c9","c8","c7","c6","c5","c4","c3","c2","c1","t13","PUN","CUZ","HUA","AYA","CAJ","adg","cha","gon","cur","stm","phu","stn","unk"], "range": ["#2ec13d","#15898b","#f8c156","#f59b1b","#c7236f","#1b27e8","#e2e97c","#d0209e","#d02020","#f04444","#f1e15d","#2ab4df","#111111","#ff84bb","#d4a128","#ee2bee","#1e1e8e","#cf4f1d","#2b7fe6","#c11fc9","#9fe0a0","#e3236f","#b38b25","#d9cd1f","#3050c0","#3cc8c8","#2b9b3c","#2a3ad2","#ef5a1b","#e02fe0","#f0a312","#3fe23f","#42b9f0","#333333"]}}
 }
},
{
 "data": {"name": "box"},
 "mark": {"type": "rect", "fill": null, "fillOpacity": 0, "strokeWidth": 2, "clip": false},
 "encoding": {
  "x": {"field": "lo", "type": "quantitative", "scale": {"domain": [-0.4209, 79.195], "nice": false, "zero": false}, "axis": null},
  "x2": {"field": "hi"},
  "y": {"datum": 1.0016, "type": "quantitative", "scale": {"domain": [0.4, 1.0], "reverse": true, "nice": false, "zero": false}, "axis": null},
  "y2": {"datum": 1.0731},
  "stroke": {"field": "c", "type": "nominal", "legend": null, "scale": {"domain": ["g","t18","c17","c16","c15","c14","c13","c12","c11","r","c10","c9","c8","c7","c6","c5","c4","c3","c2","c1","t13"], "range": ["#2ec13d","#15898b","#f8c156","#f59b1b","#c7236f","#1b27e8","#e2e97c","#d0209e","#d02020","#f04444","#f1e15d","#2ab4df","#111111","#ff84bb","#d4a128","#ee2bee","#1e1e8e","#cf4f1d","#2b7fe6","#c11fc9","#9fe0a0"]}}
 }
},
{
 "data": {"name": "box"},
 "mark": {"type": "text", "angle": 90, "align": "right", "baseline": "middle", "font": "Liberation Serif", "clip": false},
 "encoding": {
  "x": {"field": "m", "type": "quantitative", "scale": {"domain": [-0.4209, 79.195], "nice": false, "zero": false}, "axis": null},
  "y": {"datum": 1.0702, "type": "quantitative", "scale": {"domain": [0.4, 1.0], "reverse": true, "nice": false, "zero": false}, "axis": null},
  "text": {"field": "cl"},
  "size": {"field": "n", "type": "quantitative", "legend": null, "scale": {"domain": [2, 3], "range": [32, 40], "clamp": true}},
  "color": {"field": "tc", "type": "nominal", "legend": null, "scale": {"domain": ["g","t18","c17","c16","c15","c14","c13","c12","c11","r","c10","c9","c8","c7","c6","c5","c4","c3","c2","c1","t13","PUN","CUZ","HUA","AYA","CAJ","adg","cha","gon","cur","stm","phu","stn","unk"], "range": ["#2ec13d","#15898b","#f8c156","#f59b1b","#c7236f","#1b27e8","#e2e97c","#d0209e","#d02020","#f04444","#f1e15d","#2ab4df","#111111","#ff84bb","#d4a128","#ee2bee","#1e1e8e","#cf4f1d","#2b7fe6","#c11fc9","#9fe0a0","#e3236f","#b38b25","#d9cd1f","#3050c0","#3cc8c8","#2b9b3c","#2a3ad2","#ef5a1b","#e02fe0","#f0a312","#3fe23f","#42b9f0","#333333"]}}
 }
},
{
 "data": {"name": "boot"},
 "transform": [{"filter": "datum.k == 'big'"}],
 "mark": {"type": "text", "angle": 90, "align": "right", "baseline": "alphabetic", "dx": -5, "dy": -3, "font": "Liberation Sans", "fontWeight": "bold", "fontSize": 22, "color": "#111", "clip": false},
 "encoding": {
  "x": {"field": "x", "type": "quantitative", "scale": {"domain": [-0.4209, 79.195], "nice": false, "zero": false}, "axis": null},
  "y": {"field": "y", "type": "quantitative", "scale": {"domain": [0.4, 1.0], "reverse": true, "nice": false, "zero": false}, "axis": null},
  "text": {"field": "t"}
 }
},
{
 "data": {"name": "boot"},
 "transform": [{"filter": "datum.k == 'small'"}],
 "mark": {"type": "text", "angle": 90, "align": "right", "baseline": "alphabetic", "dx": -5, "dy": -3, "font": "Liberation Sans", "fontWeight": "bold", "fontSize": 13, "color": "#111", "clip": false},
 "encoding": {
  "x": {"field": "x", "type": "quantitative", "scale": {"domain": [-0.4209, 79.195], "nice": false, "zero": false}, "axis": null},
  "y": {"field": "y", "type": "quantitative", "scale": {"domain": [0.4, 1.0], "reverse": true, "nice": false, "zero": false}, "axis": null},
  "text": {"field": "t"}
 }
},
{
 "data": {"name": "leaf"},
 "mark": {"type": "text", "angle": 90, "align": "left", "baseline": "middle", "dx": 4, "font": "Liberation Sans", "fontWeight": "bold", "fontSize": 14, "clip": false},
 "encoding": {
  "x": {"field": "i", "type": "quantitative", "scale": {"domain": [-0.4209, 79.195], "nice": false, "zero": false}, "axis": null},
  "y": {"datum": 1.0, "type": "quantitative", "scale": {"domain": [0.4, 1.0], "reverse": true, "nice": false, "zero": false}, "axis": null},
  "text": {"field": "lab"},
  "color": {"field": "h", "type": "nominal", "legend": null, "scale": {"domain": ["g","t18","c17","c16","c15","c14","c13","c12","c11","r","c10","c9","c8","c7","c6","c5","c4","c3","c2","c1","t13","PUN","CUZ","HUA","AYA","CAJ","adg","cha","gon","cur","stm","phu","stn","unk"], "range": ["#2ec13d","#15898b","#f8c156","#f59b1b","#c7236f","#1b27e8","#e2e97c","#d0209e","#d02020","#f04444","#f1e15d","#2ab4df","#111111","#ff84bb","#d4a128","#ee2bee","#1e1e8e","#cf4f1d","#2b7fe6","#c11fc9","#9fe0a0","#e3236f","#b38b25","#d9cd1f","#3050c0","#3cc8c8","#2b9b3c","#2a3ad2","#ef5a1b","#e02fe0","#f0a312","#3fe23f","#42b9f0","#333333"]}}
 }
},
{
 "data": {"name": "leaf"},
 "transform": [{"filter": "isValid(datum.p2)"}],
 "mark": {"type": "text", "angle": 90, "align": "left", "baseline": "middle", "dx": 4, "font": "Liberation Sans", "fontWeight": "bold", "fontSize": 14, "clip": false},
 "encoding": {
  "x": {"field": "i", "type": "quantitative", "scale": {"domain": [-0.4209, 79.195], "nice": false, "zero": false}, "axis": null},
  "y": {"datum": 1.0, "type": "quantitative", "scale": {"domain": [0.4, 1.0], "reverse": true, "nice": false, "zero": false}, "axis": null},
  "text": {"field": "p2"},
  "color": {"field": "k", "type": "nominal", "legend": null, "scale": {"domain": ["g","t18","c17","c16","c15","c14","c13","c12","c11","r","c10","c9","c8","c7","c6","c5","c4","c3","c2","c1","t13","PUN","CUZ","HUA","AYA","CAJ","adg","cha","gon","cur","stm","phu","stn","unk"], "range": ["#2ec13d","#15898b","#f8c156","#f59b1b","#c7236f","#1b27e8","#e2e97c","#d0209e","#d02020","#f04444","#f1e15d","#2ab4df","#111111","#ff84bb","#d4a128","#ee2bee","#1e1e8e","#cf4f1d","#2b7fe6","#c11fc9","#9fe0a0","#e3236f","#b38b25","#d9cd1f","#3050c0","#3cc8c8","#2b9b3c","#2a3ad2","#ef5a1b","#e02fe0","#f0a312","#3fe23f","#42b9f0","#333333"]}}
 }
},
{
 "data": {"name": "leaf"},
 "mark": {"type": "text", "angle": 90, "align": "left", "baseline": "middle", "dx": 4, "font": "Liberation Sans", "fontWeight": "bold", "fontSize": 14, "clip": false},
 "encoding": {
  "x": {"field": "i", "type": "quantitative", "scale": {"domain": [-0.4209, 79.195], "nice": false, "zero": false}, "axis": null},
  "y": {"datum": 1.0, "type": "quantitative", "scale": {"domain": [0.4, 1.0], "reverse": true, "nice": false, "zero": false}, "axis": null},
  "text": {"field": "p1"},
  "color": {"field": "s", "type": "nominal", "legend": null, "scale": {"domain": ["g","t18","c17","c16","c15","c14","c13","c12","c11","r","c10","c9","c8","c7","c6","c5","c4","c3","c2","c1","t13","PUN","CUZ","HUA","AYA","CAJ","adg","cha","gon","cur","stm","phu","stn","unk"], "range": ["#2ec13d","#15898b","#f8c156","#f59b1b","#c7236f","#1b27e8","#e2e97c","#d0209e","#d02020","#f04444","#f1e15d","#2ab4df","#111111","#ff84bb","#d4a128","#ee2bee","#1e1e8e","#cf4f1d","#2b7fe6","#c11fc9","#9fe0a0","#e3236f","#b38b25","#d9cd1f","#3050c0","#3cc8c8","#2b9b3c","#2a3ad2","#ef5a1b","#e02fe0","#f0a312","#3fe23f","#42b9f0","#333333"]}}
 }
},
{
 "data": {"name": "leaf"},
 "mark": {"type": "text", "angle": 90, "align": "left", "baseline": "middle", "dx": 4, "font": "Liberation Sans", "fontWeight": "bold", "fontSize": 14, "color": "#111", "clip": false},
 "encoding": {
  "x": {"field": "i", "type": "quantitative", "scale": {"domain": [-0.4209, 79.195], "nice": false, "zero": false}, "axis": null},
  "y": {"datum": 1.0, "type": "quantitative", "scale": {"domain": [0.4, 1.0], "reverse": true, "nice": false, "zero": false}, "axis": null},
  "text": {"field": "p0"}
 }
}
]
}
